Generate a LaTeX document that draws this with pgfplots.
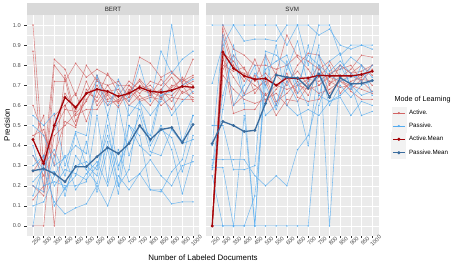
\documentclass[border=0pt]{standalone}
\usepackage{fontspec}
\setmainfont{Liberation Sans}
\usepackage{pgfplots}
\usepackage{pgfplotstable}
\pgfplotsset{compat=1.18}
\definecolor{panelbg}{HTML}{EBEBEB}
\definecolor{stripbg}{HTML}{D9D9D9}
\definecolor{ticktext}{HTML}{4D4D4D}
\definecolor{tickmark}{HTML}{333333}
\definecolor{keybg}{HTML}{F2F2F2}
\definecolor{actc}{RGB}{210,100,100}
\definecolor{pasc}{RGB}{85,172,240}
\definecolor{actm}{RGB}{165,5,10}
\definecolor{pasm}{RGB}{58,108,158}

\pgfplotstableread{
x s1 s2 s3 s4 s5 s6 s7 s8 s9 s10
1 1.00 0.87 0.43 0.13 0.27 0.00 0.20 0.60 0.35 0.45
2 0.30 0.17 0.55 0.20 0.35 0.00 0.15 0.45 0.25 0.48
3 0.83 0.72 0.00 0.80 0.48 0.55 0.45 0.35 0.50 0.30
4 0.78 0.72 0.60 0.73 0.58 0.60 0.50 0.52 0.66 0.75
5 0.65 0.81 0.50 0.52 0.57 0.66 0.56 0.49 0.58 0.55
6 0.80 0.74 0.66 0.63 0.72 0.52 0.62 0.68 0.66 0.58
7 0.72 0.78 0.64 0.70 0.60 0.67 0.73 0.62 0.75 0.58
8 0.70 0.75 0.76 0.62 0.67 0.60 0.65 0.70 0.63 0.66
9 0.62 0.70 0.66 0.62 0.68 0.63 0.59 0.72 0.65 0.61
10 0.64 0.70 0.62 0.67 0.60 0.66 0.68 0.64 0.72 0.70
11 0.84 0.66 0.70 0.72 0.65 0.73 0.62 0.68 0.68 0.63
12 0.81 0.72 0.68 0.65 0.60 0.67 0.64 0.66 0.70 0.65
13 0.74 0.70 0.66 0.73 0.68 0.64 0.63 0.60 0.64 0.68
14 0.77 0.76 0.65 0.67 0.74 0.58 0.70 0.64 0.69 0.62
15 0.71 0.72 0.70 0.74 0.66 0.67 0.69 0.63 0.73 0.70
16 0.83 0.75 0.62 0.66 0.69 0.64 0.72 0.63 0.70 0.74
}\bertA

\pgfplotstableread{
x s1 s2 s3 s4 s5 s6 s7 s8 s9 s10
1 0.55 0.50 0.40 0.35 0.30 0.22 0.20 0.10 0.00 0.15
2 0.50 0.45 0.20 0.28 0.35 0.28 0.17 0.12 0.35 0.30
3 0.56 0.30 0.22 0.12 0.20 0.27 0.35 0.25 0.10 0.38
4 0.30 0.34 0.20 0.06 0.28 0.18 0.15 0.35 0.19 0.25
5 0.47 0.40 0.20 0.09 0.26 0.30 0.35 0.18 0.25 0.46
6 0.45 0.36 0.22 0.11 0.23 0.32 0.28 0.26 0.42 0.30
7 0.74 0.75 0.55 0.20 0.30 0.28 0.21 0.32 0.17 0.25
8 0.55 0.60 0.22 0.10 0.45 0.55 0.42 0.20 0.38 0.50
9 0.73 0.70 0.60 0.25 0.28 0.30 0.20 0.38 0.16 0.20
10 0.62 0.55 0.35 0.18 0.50 0.42 0.28 0.22 0.50 0.60
11 0.80 0.62 0.50 0.26 0.40 0.55 0.62 0.26 0.45 0.58
12 0.62 0.55 0.45 0.18 0.35 0.37 0.40 0.33 0.18 0.42
13 0.87 0.62 0.67 0.17 0.48 0.35 0.50 0.25 0.18 0.65
14 0.76 1.00 0.55 0.27 0.44 0.48 0.38 0.20 0.11 0.67
15 0.83 0.70 0.62 0.33 0.27 0.41 0.16 0.30 0.12 0.42
16 0.87 0.73 0.67 0.55 0.45 0.43 0.35 0.32 0.12 0.55
}\bertP

\pgfplotstableread{
x s1 s2 s3 s4 s5 s6 s7 s8 s9 s10
1 0.00 0.00 0.00 0.00 0.00 0.00 0.00 0.00 0.00 0.00
2 1.00 0.98 0.95 0.90 0.86 0.80 0.75 0.85 0.83 0.78
3 0.88 0.80 0.78 0.60 0.82 0.77 0.68 0.56 0.74 0.85
4 0.85 0.72 0.76 0.65 0.74 0.79 0.63 0.58 0.66 0.78
5 0.80 0.83 0.73 0.68 0.70 0.66 0.61 0.58 0.75 0.72
6 0.80 0.70 0.85 0.72 0.65 0.74 0.63 0.66 0.62 0.76
7 0.78 0.76 0.75 0.60 0.70 0.62 0.66 0.55 0.68 0.70
8 0.80 0.95 0.70 0.72 0.74 0.66 0.60 0.63 0.76 0.68
9 0.85 0.84 0.80 0.77 0.66 0.72 0.70 0.62 0.64 0.70
10 0.82 0.78 0.86 0.70 0.72 0.65 0.68 0.70 0.62 0.73
11 0.78 0.70 0.85 0.74 0.80 0.78 0.70 0.66 0.63 0.72
12 0.82 0.75 0.70 0.80 0.66 0.72 0.74 0.68 0.71 0.76
13 0.74 0.80 0.80 0.66 0.72 0.69 0.72 0.72 0.74 0.78
14 0.78 0.76 0.76 0.72 0.68 0.70 0.75 0.70 0.67 0.80
15 0.85 0.77 0.80 0.74 0.73 0.76 0.72 0.68 0.63 0.72
16 0.84 0.80 0.75 0.80 0.72 0.70 0.67 0.66 0.63 0.78
}\svmA

\pgfplotstableread{
x s1 s2 s3 s4 s5 s6 s7 s8 s9 s10
1 1.00 0.71 0.50 0.33 0.29 0.25 0.00 0.30 0.40 0.28
2 1.00 0.90 0.50 0.33 0.29 0.00 0.00 0.65 0.95 0.58
3 1.00 1.00 0.28 0.33 0.00 0.00 0.00 0.85 0.60 0.90
4 1.00 0.92 0.28 0.33 0.55 0.00 0.00 0.61 0.70 0.65
5 1.00 0.93 0.30 0.25 0.00 0.00 0.15 0.00 0.80 0.76
6 1.00 0.93 0.87 0.20 0.85 0.00 0.70 0.78 0.55 0.70
7 1.00 0.92 0.85 0.25 0.60 0.00 0.90 0.82 0.60 0.58
8 0.90 1.00 0.80 0.20 0.78 0.00 0.60 0.85 0.82 0.72
9 1.00 1.00 0.70 0.38 0.92 0.00 0.55 0.70 0.66 0.62
10 0.80 1.00 0.60 0.45 0.70 0.00 0.58 0.85 0.90 0.40
11 1.00 0.95 0.85 0.65 0.90 0.60 0.55 0.80 0.65 0.80
12 1.00 0.98 0.77 0.62 0.00 0.75 0.62 0.75 0.82 0.60
13 0.85 0.90 0.82 0.64 0.78 0.80 0.65 0.72 0.86 0.70
14 0.90 0.88 0.76 0.55 0.84 0.70 0.70 0.74 0.68 0.64
15 0.90 0.90 0.72 0.62 0.80 0.65 0.55 0.75 0.80 0.70
16 0.90 0.88 0.80 0.60 0.74 0.67 0.57 0.77 0.65 0.72
}\svmP

\pgfplotstableread{
x bertAM bertPM svmAM svmPM
1 0.43 0.275 0.00 0.41
2 0.31 0.285 0.865 0.52
3 0.50 0.26 0.785 0.50
4 0.64 0.22 0.747 0.47
5 0.59 0.295 0.73 0.476
6 0.66 0.295 0.734 0.61
7 0.68 0.345 0.70 0.752
8 0.67 0.39 0.737 0.74
9 0.645 0.36 0.734 0.737
10 0.66 0.41 0.737 0.686
11 0.69 0.50 0.75 0.757
12 0.67 0.43 0.747 0.64
13 0.665 0.48 0.747 0.737
14 0.675 0.49 0.747 0.707
15 0.695 0.415 0.754 0.709
16 0.69 0.505 0.77 0.724
}\means

\pgfplotsset{
  panel/.style={
    scale only axis, width=172.8pt, height=221pt,
    xmin=0.4, xmax=16.6, ymin=-0.05, ymax=1.05,
    axis background/.style={fill=panelbg},
    axis line style={draw=none},
    xtick={1,...,16},
    xticklabels={250,300,350,400,450,500,550,600,650,700,750,800,850,900,950,1000},
    ytick={0,0.1,0.2,0.3,0.4,0.5,0.6,0.7,0.8,0.9,1.0},
    minor ytick={0.05,0.15,0.25,0.35,0.45,0.55,0.65,0.75,0.85,0.95},
    xmajorgrids, ymajorgrids, yminorgrids,
    major grid style={white, line width=0.55pt},
    minor grid style={white, line width=0.28pt},
    tick style={tickmark, line width=0.5pt},
    major tick length=2.2pt, minor tick length=0pt,
    tick align=outside, xtick pos=bottom, ytick pos=left,
    /pgf/number format/assume math mode=true,
    ticklabel style={font=\fontsize{5.7}{6}\selectfont, text=ticktext},
    x tick label style={rotate=45, anchor=center, xshift=0.6pt, yshift=-4.3pt},
    clip=false,
  },
  actline/.style={actc, opacity=0.75, line width=0.55pt, mark=*, mark size=0.45pt},
  pasline/.style={pasc, opacity=0.75, line width=0.55pt, mark=*, mark size=0.45pt},
  actmean/.style={actm, line width=1.3pt, mark=*, mark size=0.7pt},
  pasmean/.style={pasm, line width=1.3pt, mark=*, mark size=0.7pt},
}

\begin{document}
\begin{tikzpicture}
\useasboundingbox (0pt,0pt) rectangle (461pt,266pt);

\begin{axis}[panel, name=bert, at={(26.6pt,30pt)}, anchor=south west,
  yticklabels={0.0,0.1,0.2,0.3,0.4,0.5,0.6,0.7,0.8,0.9,1.0}]
\pgfplotsinvokeforeach{1,...,10}{\addplot[actline, forget plot] table[x=x, y=s#1]{\bertA};}
\pgfplotsinvokeforeach{1,...,10}{\addplot[pasline, forget plot] table[x=x, y=s#1]{\bertP};}
\addplot[actmean, forget plot] table[x=x, y=bertAM]{\means};
\addplot[pasmean, forget plot] table[x=x, y=bertPM]{\means};
\end{axis}

\begin{axis}[panel, name=svm, at={(205.8pt,30pt)}, anchor=south west,
  yticklabels={}, ytick style={draw=none},
  legend style={at={(1,0.586)}, anchor=north west, xshift=12.5pt,
    draw=none, fill=none, inner sep=0pt, row sep=0pt,
    font=\fontsize{6.2}{7}\selectfont,
    nodes={inner sep=1.5pt}},
  legend cell align=left,
  legend image code/.code={%
    \fill[keybg] (-1pt,-6.2pt) rectangle (13pt,6.2pt);
    \draw[mark repeat=2, mark phase=2, #1] plot coordinates {(0pt,0pt) (6pt,0pt) (12pt,0pt)};}]
\pgfplotsinvokeforeach{1,...,10}{\addplot[actline, forget plot] table[x=x, y=s#1]{\svmA};}
\pgfplotsinvokeforeach{1,...,10}{\addplot[pasline, forget plot] table[x=x, y=s#1]{\svmP};}
\addplot[actmean, forget plot] table[x=x, y=svmAM]{\means};
\addplot[pasmean, forget plot] table[x=x, y=svmPM]{\means};
\addlegendimage{actc, line width=0.5pt, mark=*, mark size=0.8pt}
\addlegendentry{\hspace{1.2pt}Active.}
\addlegendimage{pasc, line width=0.5pt, mark=*, mark size=0.8pt}
\addlegendentry{\hspace{1.2pt}Passive.}
\addlegendimage{actm, line width=1.1pt, mark=*, mark size=0.9pt}
\addlegendentry{\hspace{1.2pt}Active.Mean}
\addlegendimage{pasm, line width=1.1pt, mark=*, mark size=0.9pt}
\addlegendentry{\hspace{1.2pt}Passive.Mean}
\end{axis}

\fill[stripbg] (bert.north west) rectangle ([yshift=12pt]bert.north east);
\node[font=\fontsize{6.2}{7}\selectfont, text=black!85] at ([yshift=6pt]bert.north) {BERT};
\fill[stripbg] (svm.north west) rectangle ([yshift=12pt]svm.north east);
\node[font=\fontsize{6.2}{7}\selectfont, text=black!85] at ([yshift=6pt]svm.north) {SVM};

\node[font=\fontsize{7.9}{9}\selectfont] at (203pt,8.5pt) {Number of Labeled Documents};
\node[font=\fontsize{7.9}{9}\selectfont, rotate=90] at (7pt,141pt) {Precision};
\node[font=\fontsize{7.2}{8}\selectfont, anchor=west] at (391pt,166pt) {Mode of Learning};
\end{tikzpicture}
\end{document}
